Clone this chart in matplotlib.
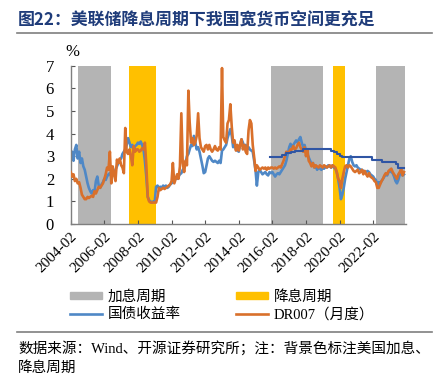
import pandas as pd
import matplotlib
matplotlib.use("Agg")
import matplotlib.pyplot as plt
from matplotlib.patches import Patch
from matplotlib.lines import Line2D

SERIF_CJK = ["Liberation Serif", "Noto Sans CJK SC"]

# monthly data, 2004-02 .. 2023-12
start_month = "2004-02-01"
bond_yield = [
    3.0, 3.2, 2.8, 3.3, 3.5, 2.9, 3.2, 2.7, 2.9, 2.55, 2.4, 2.1,
    1.8, 1.6, 1.45, 1.35, 1.5, 1.4, 1.9, 2.1, 1.7, 1.6, 1.75, 1.85,
    2.0, 1.95, 2.1, 2.2, 2.25, 2.1, 2.3, 2.2, 2.4, 2.55, 2.7, 2.85,
    2.9, 3.1, 3.2, 3.3, 3.5, 3.8, 3.6, 3.4, 3.5, 3.3, 3.45, 3.5,
    3.6, 3.55, 3.65, 3.5, 3.3, 2.8, 2.1, 1.2, 1.05, 1.0, 0.95, 1.0,
    1.0, 1.65, 1.7, 1.6, 1.65, 1.6, 1.7, 1.65, 1.7, 1.6, 1.65, 1.75,
    1.8, 1.85, 1.9, 2.05, 2.0, 2.1, 2.2, 2.25, 2.4, 2.5, 2.7, 3.0,
    3.1, 3.3, 3.5, 3.45, 3.9, 3.6, 3.3, 3.4, 3.2, 2.9, 2.6, 2.25,
    2.3, 2.6, 2.9, 3.0, 2.9, 2.8, 2.75, 2.8, 2.75, 2.7, 2.8, 2.7,
    3.25, 3.3, 3.4, 3.5, 3.8, 4.0, 4.2, 3.9, 3.4, 3.5, 3.3, 3.25,
    3.2, 3.5, 3.75, 3.6, 3.4, 3.5, 3.3, 3.4, 3.3, 3.25, 3.2, 2.8,
    2.35, 1.7, 2.3, 2.4, 2.3, 2.2, 2.25, 2.3, 2.2, 2.15, 2.3, 2.25,
    2.3, 2.2, 2.1, 2.2, 2.25, 2.2, 2.3, 2.4, 2.5, 2.6, 2.8, 3.1,
    3.4, 3.55, 3.4, 3.5, 3.6, 3.7, 3.6, 3.75, 3.85, 3.6, 3.4, 3.5,
    3.25, 3.1, 2.95, 2.8, 2.65, 2.7, 2.5, 2.55, 2.4, 2.5, 2.45, 2.4,
    2.5, 2.45, 2.55, 2.5, 2.6, 2.55, 2.5, 2.6, 2.5, 2.45, 2.3, 2.0,
    1.6, 1.1, 1.3, 1.6, 2.0, 2.3, 2.6, 2.9, 3.0, 2.75, 2.6, 2.55,
    2.6, 2.5, 2.45, 2.4, 2.4, 2.35, 2.3, 2.3, 2.35, 2.3, 2.2, 2.15,
    2.1, 2.0, 1.95, 1.7, 1.85, 1.8, 1.9, 2.0, 2.1, 2.2, 2.15, 2.3,
    2.35, 2.3, 2.25, 2.1, 1.9, 1.8, 1.95, 2.2, 2.3, 2.15, 2.2,
]
dr007 = [
    2.3, 2.1, 2.2, 1.9, 2.0, 1.8, 1.85, 1.6, 1.3, 1.2, 1.1, 1.1,
    1.2, 1.15, 1.2, 1.25, 1.2, 1.45, 1.35, 1.5, 1.65, 1.6, 1.7, 1.8,
    2.0, 2.2, 2.5, 2.4, 3.2, 1.8, 2.55, 2.2, 1.9, 2.85, 2.7, 2.9,
    2.6, 2.5, 2.25, 4.25, 3.2, 3.1, 3.3, 3.0, 2.6, 3.45, 3.2, 3.3,
    3.3, 3.2, 3.25, 3.35, 3.3, 3.6, 2.6, 1.2, 1.0, 0.95, 0.95, 0.95,
    0.95, 0.95, 1.2, 1.6, 1.5, 1.55, 1.6, 1.55, 1.6, 1.65, 1.7, 1.75,
    1.9, 2.7, 1.8, 2.0, 2.2, 2.0, 2.55, 4.9, 2.7, 2.3, 2.8, 2.6,
    5.9, 4.5, 3.6, 3.8, 3.5, 3.6, 3.9, 4.9, 3.8, 3.4, 3.3, 3.2,
    3.45, 3.5, 3.3, 3.5, 3.3, 3.2, 3.3, 3.45, 3.3, 3.25, 3.4, 3.3,
    6.9, 3.85, 3.7, 3.6, 4.45, 4.6, 5.3, 4.3, 3.6, 3.7, 3.25, 3.5,
    3.25, 3.5, 3.75, 3.3, 3.5, 3.2, 3.1, 4.15, 4.6, 4.45, 3.5, 2.95,
    2.35, 2.6, 2.5, 2.4, 2.45, 2.5, 2.45, 2.5, 2.4, 2.5, 2.45, 2.5,
    2.5, 2.45, 2.5, 2.45, 2.5, 2.55, 2.5, 2.65, 2.8, 3.0, 3.2, 3.15,
    3.2, 3.3, 3.3, 3.45, 3.3, 3.35, 3.5, 3.6, 3.4, 3.3, 3.2, 3.4,
    3.0, 3.3, 2.8, 2.7, 2.55, 2.7, 2.5, 2.6, 2.55, 2.5, 2.6, 2.55,
    2.5, 2.6, 2.55, 2.5, 2.55, 2.6, 2.5, 2.6, 2.55, 2.5, 2.3, 2.0,
    1.9, 1.6, 2.0, 2.3, 2.55, 2.6, 2.5, 2.6, 2.55, 2.45, 2.35, 2.3,
    2.35, 2.4, 2.25, 2.3, 2.4, 2.2, 2.35, 2.2, 2.1, 2.25, 2.1, 2.05,
    2.0, 1.9, 1.85, 1.6, 1.6, 1.75, 1.9, 2.0, 2.15, 2.25, 2.2, 2.35,
    2.4, 2.45, 2.3, 2.2, 2.1, 2.0, 2.2, 2.3, 2.45, 2.15, 2.3,
]

# policy rate (step line, unlabelled in the legend)
mlf_dates = ["2015-12", "2016-09", "2016-12", "2017-03", "2017-06", "2017-12",
             "2019-08", "2019-10", "2019-12", "2020-02", "2020-04", "2022-01",
             "2022-08", "2023-06", "2023-08", "2023-12"]
mlf_rate = [2.95, 3.05, 3.15, 3.2, 3.25, 3.3, 3.25, 3.2, 3.1, 3.0, 2.95, 2.85,
            2.75, 2.65, 2.5, 2.5]

hike_periods = [("2004-07", "2006-07"), ("2016-01", "2019-02"), ("2022-04", "2024-01")]
cut_periods = [("2007-08", "2009-03"), ("2019-09", "2020-06")]

tick_labels = ["2004-02", "2006-02", "2008-02", "2010-02", "2012-02",
               "2014-02", "2016-02", "2018-02", "2020-02", "2022-02"]

months = pd.date_range(start_month, periods=len(bond_yield), freq="MS")

fig = plt.figure(figsize=(4.34, 3.74), dpi=100)
ax = fig.add_axes([0.163, 0.401, 0.772, 0.423])

for a, b in hike_periods:
    ax.axvspan(pd.Timestamp(a), pd.Timestamp(b), color="#B4B4B4", lw=0, zorder=0)
for a, b in cut_periods:
    ax.axvspan(pd.Timestamp(a), pd.Timestamp(b), color="#FFC000", lw=0, zorder=0)

ax.plot(months, bond_yield, color="#4F88C6", lw=1.9, zorder=2)
ax.plot(months, dr007, color="#D9702B", lw=1.9, zorder=3)
ax.plot(pd.to_datetime(mlf_dates), mlf_rate, color="#2F55A4", lw=1.5,
        drawstyle="steps-post", zorder=4)

ax.set_xlim(pd.Timestamp("2004-02-01"), pd.Timestamp("2024-01-10"))
ax.set_ylim(0, 7)
ax.set_yticks(range(8))
ax.set_xticks(pd.to_datetime(tick_labels))
ax.set_xticklabels(tick_labels, rotation=45, ha="right", rotation_mode="anchor")
for lab in ax.get_xticklabels() + ax.get_yticklabels():
    lab.set_family("Liberation Serif")
ax.tick_params(axis="x", direction="in", length=3, labelsize=11, pad=4, color="#555555")
ax.tick_params(axis="y", direction="in", length=3, labelsize=12, pad=12, color="#555555")
for s in ["top", "right"]:
    ax.spines[s].set_visible(False)
for s in ["left", "bottom"]:
    ax.spines[s].set_color("#7F7F7F")
    ax.spines[s].set_linewidth(1.0)

fig.text(0.150, 0.85, "%", fontsize=12, family="Liberation Serif")

fig.text(0.042, 0.945, "图22：美联储降息周期下我国宽货币空间更充足",
         fontsize=12.2, fontweight="bold", color="#1F3C7A", family="Noto Sans CJK SC",
         va="center")
fig.add_artist(Line2D([0.04, 0.995], [0.912, 0.912], color="#7F7F7F", lw=1.2))
fig.add_artist(Line2D([0.04, 0.995], [0.112, 0.112], color="#7F7F7F", lw=1.2))

handles = [Patch(color="#B4B4B4"), Line2D([], [], color="#4F88C6", lw=1.9),
           Patch(color="#FFC000"), Line2D([], [], color="#D9702B", lw=1.9)]
labels = ["加息周期", "国债收益率", "降息周期", "DR007（月度）"]
fig.legend(handles, labels, ncol=2, loc="center left", bbox_to_anchor=(0.13, 0.182),
           frameon=False, prop={"family": SERIF_CJK, "size": 10.5},
           handlelength=2.2, handleheight=0.45, columnspacing=3.8,
           labelspacing=0.3, handletextpad=0.4)

fig.text(0.042, 0.07, "数据来源：Wind、开源证券研究所；注：背景色标注美国加息、",
         fontsize=10.5, family=SERIF_CJK, va="center")
fig.text(0.042, 0.015, "降息周期", fontsize=10.5, family=SERIF_CJK, va="center")

fig.savefig("out.png", dpi=100)
